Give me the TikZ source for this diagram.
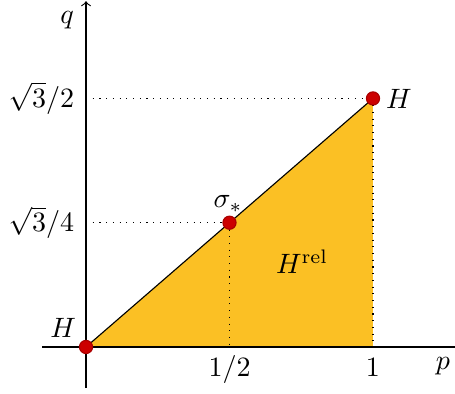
\documentclass[tikz,border=0pt]{standalone}
\begin{document}
\begin{tikzpicture}[x=3.602cm,y=3.602cm,
  pt/.style={circle,fill={rgb,255:red,204;green,0;blue,0},draw={rgb,255:red,170;green,0;blue,0},inner sep=0pt,minimum size=4.7pt},
  guide/.style={dotted,line width=0.4pt},
  lbl/.style={inner sep=1pt}]
\useasboundingbox (-0.2997,-0.1638) rectangle (1.2857,1.209);
\definecolor{gold}{RGB}{251,192,36}
\coordinate (O) at (0,0);
\coordinate (A) at (1,0);
\coordinate (T) at (1,0.8660);
\coordinate (S) at (0.5,0.4330);
\coordinate (YS) at (0,0.4330);
\coordinate (YT) at (0,0.8660);
\coordinate (XS) at (0.5,0);
\fill[gold] (O) -- (A) -- (T) -- cycle;
\draw[line width=0.4pt] (-0.153,0) -- (1.29,0);
\draw[->,line width=0.4pt] (0,-0.143) -- (0,1.205);
\draw[guide] (YT) -- (T);
\draw[guide] (T) -- (A);
\draw[guide] (YS) -- (S);
\draw[guide] (S) -- (XS);
\draw[line width=0.4pt] (O) -- (T);
\node[pt] (h0) at (O) {};
\node[pt] (h1) at (T) {};
\node[pt] (s) at (S) {};
\node[lbl] (lq) at (-0.066,1.139) {$q$};
\node[lbl] (lp) at (1.244,-0.068) {$p$};
\node[lbl] (lhalf) at (0.5,-0.078) {$1/2$};
\node[lbl] (lone) at (1,-0.073) {$1$};
\node[lbl,anchor=east] (ly1) at (-0.03,0.866) {$\sqrt{3}/2$};
\node[lbl,anchor=east] (ly2) at (-0.03,0.433) {$\sqrt{3}/4$};
\node[lbl] (lh0) at (-0.08,0.066) {$H$};
\node[lbl] (lh1) at (1.09,0.866) {$H$};
\node[lbl] (ls) at (0.495,0.498) {$\sigma_*$};
\node[lbl] (lrel) at (0.753,0.296) {$H^{\mathrm{rel}}$};
\end{tikzpicture}
\end{document}
